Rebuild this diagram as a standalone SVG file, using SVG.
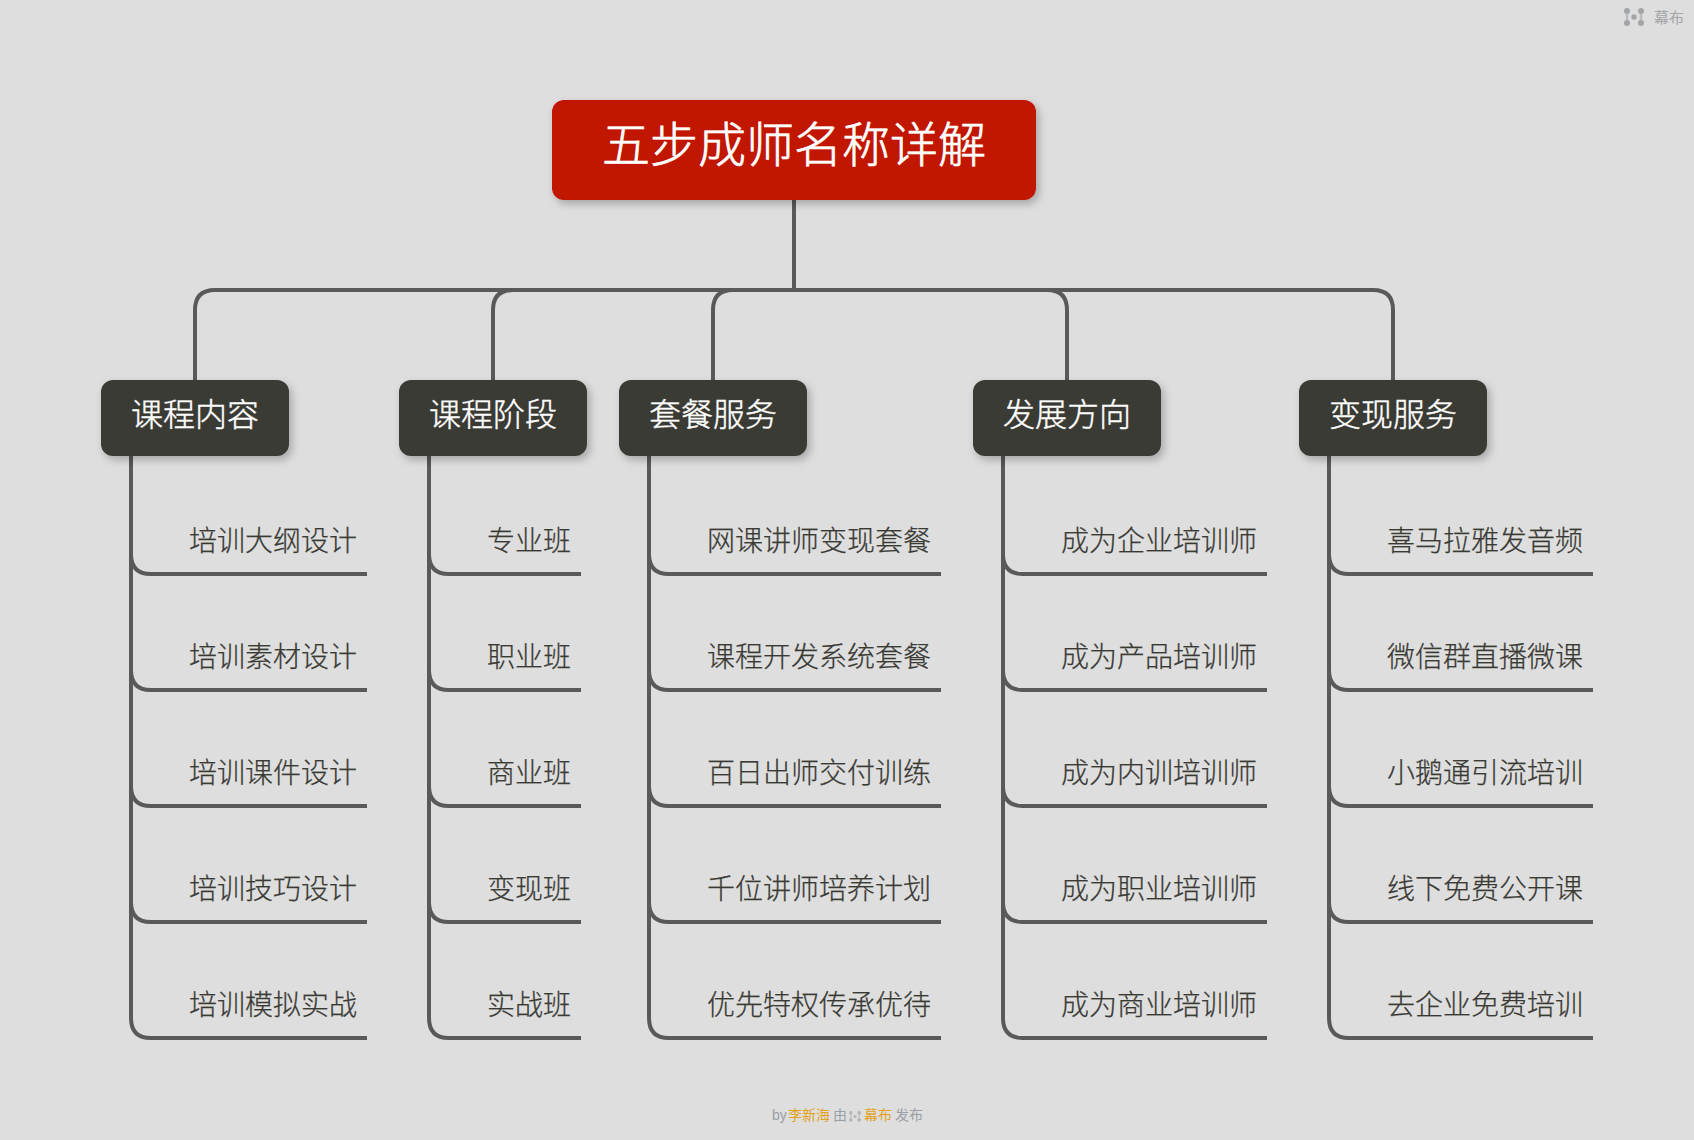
<svg xmlns="http://www.w3.org/2000/svg" width="1694" height="1140" viewBox="0 0 1694 1140">
<defs>
<filter id="sh" x="-10%" y="-10%" width="125%" height="140%"><feDropShadow dx="3" dy="4" stdDeviation="4" flood-color="#000" flood-opacity="0.25"/></filter>
<g id="logo"><path d="M-7-6V6M7-6V6" stroke-width="2.5" stroke-opacity=".6" stroke="currentColor"/><circle cx="-7" cy="-6" r="3"/><circle cx="7" cy="-6" r="3"/><circle cx="-7" cy="6" r="3"/><circle cx="7" cy="6" r="3"/><circle cx="0" cy="0" r="2.7"/></g>
</defs>
<style>
text{font-family:"Noto Sans CJK SC","Noto Sans",sans-serif;font-weight:300}
.c{fill:none;stroke:#595959;stroke-width:4}
.r{font-size:48px;fill:#fff;stroke:#fff;stroke-width:.7}
.t{font-size:32px;fill:#fff;stroke:#fff;stroke-width:.4}
.l{font-size:28px;fill:#3a3a35;stroke:#3a3a35;stroke-width:.25}
.b{fill:#3a3a35;filter:url(#sh)}
.f{font-size:14px;fill:#9a9ea6;font-weight:400}
.o{fill:#e2a21c}
</style>
<rect width="1694" height="1140" fill="#dedede"/>
<g id="connectors">
<path class="c" d="M794 200V290"/>
<path class="c" d="M195 380V310Q195 290 215 290H1373Q1393 290 1393 310V380"/>
<path class="c" d="M493 380V310Q493 290 513 290"/>
<path class="c" d="M713 380V310Q713 290 733 290"/>
<path class="c" d="M1067 380V310Q1067 290 1047 290"/>
<path class="c" d="M131 456V1018Q131 1038 151 1038H367M131 554Q131 574 151 574H367M131 670Q131 690 151 690H367M131 786Q131 806 151 806H367M131 902Q131 922 151 922H367"/>
<path class="c" d="M429 456V1018Q429 1038 449 1038H581M429 554Q429 574 449 574H581M429 670Q429 690 449 690H581M429 786Q429 806 449 806H581M429 902Q429 922 449 922H581"/>
<path class="c" d="M649 456V1018Q649 1038 669 1038H941M649 554Q649 574 669 574H941M649 670Q649 690 669 690H941M649 786Q649 806 669 806H941M649 902Q649 922 669 922H941"/>
<path class="c" d="M1003 456V1018Q1003 1038 1023 1038H1267M1003 554Q1003 574 1023 574H1267M1003 670Q1003 690 1023 690H1267M1003 786Q1003 806 1023 806H1267M1003 902Q1003 922 1023 922H1267"/>
<path class="c" d="M1329 456V1018Q1329 1038 1349 1038H1593M1329 554Q1329 574 1349 574H1593M1329 670Q1329 690 1349 690H1593M1329 786Q1329 806 1349 806H1593M1329 902Q1329 922 1349 922H1593"/>
</g>
<g id="root"><rect x="552" y="100" width="484" height="100" rx="12" fill="#c11204" filter="url(#sh)"/><text class="r" x="602" y="162">五步成师名称详解</text></g>
<g id="n1"><rect class="b" x="101" y="380" width="188" height="76" rx="12"/><text class="t" x="131" y="426">课程内容</text></g>
<g id="n2"><rect class="b" x="399" y="380" width="188" height="76" rx="12"/><text class="t" x="429" y="426">课程阶段</text></g>
<g id="n3"><rect class="b" x="619" y="380" width="188" height="76" rx="12"/><text class="t" x="649" y="426">套餐服务</text></g>
<g id="n4"><rect class="b" x="973" y="380" width="188" height="76" rx="12"/><text class="t" x="1003" y="426">发展方向</text></g>
<g id="n5"><rect class="b" x="1299" y="380" width="188" height="76" rx="12"/><text class="t" x="1329" y="426">变现服务</text></g>
<g id="leaves1" class="l"><text x="189" y="551">培训大纲设计</text><text x="189" y="667">培训素材设计</text><text x="189" y="783">培训课件设计</text><text x="189" y="899">培训技巧设计</text><text x="189" y="1015">培训模拟实战</text></g>
<g id="leaves2" class="l"><text x="487" y="551">专业班</text><text x="487" y="667">职业班</text><text x="487" y="783">商业班</text><text x="487" y="899">变现班</text><text x="487" y="1015">实战班</text></g>
<g id="leaves3" class="l"><text x="707" y="551">网课讲师变现套餐</text><text x="707" y="667">课程开发系统套餐</text><text x="707" y="783">百日出师交付训练</text><text x="707" y="899">千位讲师培养计划</text><text x="707" y="1015">优先特权传承优待</text></g>
<g id="leaves4" class="l"><text x="1061" y="551">成为企业培训师</text><text x="1061" y="667">成为产品培训师</text><text x="1061" y="783">成为内训培训师</text><text x="1061" y="899">成为职业培训师</text><text x="1061" y="1015">成为商业培训师</text></g>
<g id="leaves5" class="l"><text x="1387" y="551">喜马拉雅发音频</text><text x="1387" y="667">微信群直播微课</text><text x="1387" y="783">小鹅通引流培训</text><text x="1387" y="899">线下免费公开课</text><text x="1387" y="1015">去企业免费培训</text></g>
<g id="watermark"><use href="#logo" x="1634" y="17" fill="#a3a5a8" color="#a3a5a8"/><text x="1654" y="23" font-size="15" fill="#a3a5a8" style="font-weight:400">幕布</text></g>
<g id="footer"><text class="f" x="772" y="1120" style="font-family:'Liberation Sans',sans-serif">by</text><text class="f o" x="788" y="1120">李新海</text><text class="f" x="833" y="1120">由</text><use href="#logo" transform="translate(855 1116.5) scale(.6)" fill="#b5b5b5" color="#b5b5b5"/><text class="f o" x="864" y="1120">幕布</text><text class="f" x="895" y="1120">发布</text></g>
</svg>
